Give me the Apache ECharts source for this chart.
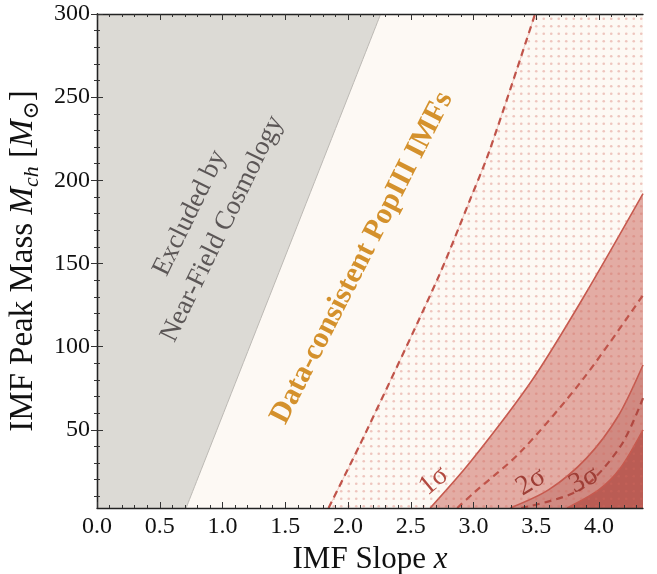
<!DOCTYPE html>
<html>
<head>
<meta charset="utf-8">
<script src="https://cdn.jsdelivr.net/npm/echarts@6/dist/echarts.min.js"></script>
<style>
  html, body { margin: 0; padding: 0; background: #fff; }
  #main { width: 657px; height: 574px; }
</style>
</head>
<body>
<div id="main"></div>
<script>
// axis ranges / ticks
var xMin = 0, xMax = 4.35, yMin = 3, yMax = 300;
var xMajor = [0, 0.5, 1.0, 1.5, 2.0, 2.5, 3.0, 3.5, 4.0];
var xMinor = [0.1,0.2,0.3,0.4,0.6,0.7,0.8,0.9,1.1,1.2,1.3,1.4,1.6,1.7,1.8,1.9,2.1,2.2,2.3,2.4,2.6,2.7,2.8,2.9,3.1,3.2,3.3,3.4,3.6,3.7,3.8,3.9,4.1,4.2,4.3];
var yMajor = [50, 100, 150, 200, 250, 300];
var yMinor = [10,20,30,40,60,70,80,90,110,120,130,140,160,170,180,190,210,220,230,240,260,270,280,290];

// excluded (near-field cosmology) boundary
var exclX = [0, 0.71, 2.26];
var exclY = [3, 3, 300];

// dashed boundary of the dotted region
var dashAX = [1.845, 2.137, 2.709, 2.974, 3.128, 3.49];
var dashAY = [3, 47.7, 140, 188.7, 218, 300];

// 1 sigma contour + dashed line inside
var sig1X = [2.655, 2.974, 3.466, 3.878, 4.35];
var sig1Y = [3, 30.6, 79.8, 130, 192];
var dash1X = [2.87, 3.0, 3.373, 3.865, 4.35];
var dash1Y = [3, 12, 36.6, 79.8, 131];

// 2 sigma contour + dashed line inside
var sig2X = [3.293, 3.6, 3.9, 4.15, 4.35];
var sig2Y = [3, 14, 33, 58, 89];
var dash2X = [3.38, 3.85, 4.17, 4.35];
var dash2Y = [3, 14, 40, 69];

// 3 sigma contour
var sig3X = [3.745, 4.0, 4.17, 4.35];
var sig3Y = [3, 14, 27, 50];

function pts(xs, ys) { return xs.map(function (x, i) { return [x, ys[i]]; }); }

// dot hatch pattern
var pat = document.createElement('canvas');
pat.width = 15; pat.height = 15;
var pctx = pat.getContext('2d');
pctx.fillStyle = 'rgba(210,105,95,0.36)';
[[3.75,3.75],[11.25,3.75],[3.75,11.25],[11.25,11.25]].forEach(function (p) {
  pctx.beginPath(); pctx.arc(p[0], p[1], 1.3, 0, Math.PI * 2); pctx.fill();
});

var serif = '"Liberation Serif", "DejaVu Serif", serif';
var frame = { show: true, lineStyle: { color: '#222', width: 1.3 } };

function xAxisDef(pos, vals, len, withLabel, withLine) {
  return {
    type: 'value', position: pos, min: xMin, max: xMax, z: 10,
    axisLine: withLine ? frame : { show: false },
    splitLine: { show: false },
    axisTick: { show: true, inside: true, length: len, customValues: vals, lineStyle: { color: '#333', width: 1 } },
    axisLabel: withLabel ? {
      show: true, customValues: xMajor, margin: 7, color: '#111', fontFamily: serif, fontSize: 24,
      formatter: function (v) { return v.toFixed(1); }
    } : { show: false }
  };
}
function yAxisDef(pos, vals, len, withLabel, withLine) {
  return {
    type: 'value', position: pos, min: yMin, max: yMax, z: 10,
    axisLine: withLine ? frame : { show: false },
    splitLine: { show: false },
    axisTick: { show: true, inside: true, length: len, customValues: vals, lineStyle: { color: '#333', width: 1 } },
    axisLabel: withLabel ? { show: true, customValues: yMajor, margin: 7, color: '#111', fontFamily: serif, fontSize: 24 } : { show: false }
  };
}

var xAxes = [
  xAxisDef('bottom', xMajor, 6, true, true),
  xAxisDef('bottom', xMinor, 3, false, false),
  xAxisDef('top', xMajor, 6, false, true),
  xAxisDef('top', xMinor, 3, false, false)
];
xAxes[0].name = '{t|IMF Slope }{i|x}';
xAxes[0].nameLocation = 'middle';
xAxes[0].nameGap = 28;
xAxes[0].nameTextStyle = {
  rich: {
    t: { fontFamily: serif, fontSize: 31, color: '#111' },
    i: { fontFamily: serif, fontSize: 31, fontStyle: 'italic', color: '#111' }
  }
};

var yAxes = [
  yAxisDef('left', yMajor, 6, true, true),
  yAxisDef('left', yMinor, 3, false, false),
  yAxisDef('right', yMajor, 6, false, true),
  yAxisDef('right', yMinor, 3, false, false)
];
yAxes[0].name = '{t|IMF Peak Mass }{i|M}{s|ch}{t| [}{i|M}{s|⊙}{t|]}';
yAxes[0].nameLocation = 'middle';
yAxes[0].nameGap = 53;
yAxes[0].nameTextStyle = {
  rich: {
    t: { fontFamily: serif, fontSize: 33, color: '#111', lineHeight: 40 },
    i: { fontFamily: serif, fontSize: 33, fontStyle: 'italic', color: '#111', lineHeight: 40 },
    s: { fontFamily: serif, fontSize: 22, fontStyle: 'italic', color: '#111', lineHeight: 20, verticalAlign: 'bottom' }
  }
};

function area(data, color, origin, line, z) {
  return {
    type: 'line', data: data, symbol: 'none', smooth: 0.3, z: z, silent: true,
    lineStyle: line || { width: 0, opacity: 0 },
    areaStyle: { color: color, opacity: 1, origin: origin }
  };
}
function curve(data, style, z) {
  return { type: 'line', data: data, symbol: 'none', smooth: 0.3, z: z, silent: true, lineStyle: style };
}

var solid = { color: '#c65a4f', width: 1.6 };
var dashed = { color: '#c0544a', width: 2.2, type: [7, 5] };

var option = {
  animation: false,
  backgroundColor: '#ffffff',
  grid: {
    left: 97, right: 14, top: 14, bottom: 66, outerBoundsMode: 'none', containLabel: false,
    show: true, backgroundColor: '#fdf9f4', borderWidth: 0
  },
  xAxis: xAxes,
  yAxis: yAxes,
  series: [
    {
      type: 'line', data: pts(exclX, exclY), symbol: 'none', z: 2, silent: true,
      lineStyle: { width: 0, opacity: 0 },
      areaStyle: { color: '#dcdad5', opacity: 1, origin: 'end' }
    },
    curve(pts(exclX.slice(1), exclY.slice(1)), { color: '#bcb9b4', width: 1 }, 3),
    area(pts(sig1X, sig1Y), '#e3aca4', 'start', solid, 3),
    area(pts(sig2X, sig2Y), '#d08a82', 'start', solid, 4),
    area(pts(sig3X, sig3Y), '#ba5c54', 'start', solid, 5),
    area(pts(dashAX, dashAY), { image: pat, repeat: 'repeat' }, 'start', { color: '#f0c7c0', width: 1 }, 6),
    area([[dashAX[dashAX.length - 1], yMax], [xMax, yMax]], { image: pat, repeat: 'repeat' }, 'start', null, 6),
    curve(pts(dashAX, dashAY), dashed, 7),
    curve(pts(dash1X, dash1Y), dashed, 7),
    curve(pts(dash2X, dash2Y), { color: '#b04840', width: 2.2, type: [7, 5] }, 7)
  ],
  graphic: [
    {
      type: 'text', x: 206, y: 221, rotation: 64 * Math.PI / 180, z: 20, silent: true,
      style: { text: 'Excluded by\nNear-Field Cosmology', fill: '#5b5656', font: '27px ' + serif, align: 'center', verticalAlign: 'middle', lineHeight: 36 }
    },
    {
      type: 'text', x: 362, y: 258, rotation: 63 * Math.PI / 180, z: 20, silent: true,
      style: { text: 'Data-consistent PopIII IMFs', fill: '#d4912c', font: 'bold 30px ' + serif, align: 'center', verticalAlign: 'middle' }
    },
    {
      type: 'text', x: 434, y: 481, rotation: 40 * Math.PI / 180, z: 20, silent: true,
      style: { text: '1σ', fill: '#b24a40', font: '28px ' + serif, align: 'center', verticalAlign: 'middle' }
    },
    {
      type: 'text', x: 531, y: 482, rotation: 32 * Math.PI / 180, z: 20, silent: true,
      style: { text: '2σ', fill: '#9e3e36', font: '28px ' + serif, align: 'center', verticalAlign: 'middle' }
    },
    {
      type: 'text', x: 584, y: 480, rotation: 28 * Math.PI / 180, z: 20, silent: true,
      style: { text: '3σ', fill: '#9e3e36', font: '28px ' + serif, align: 'center', verticalAlign: 'middle' }
    }
  ]
};

var myChart = echarts.init(document.getElementById('main'));
myChart.setOption(option);
</script>
</body>
</html>
